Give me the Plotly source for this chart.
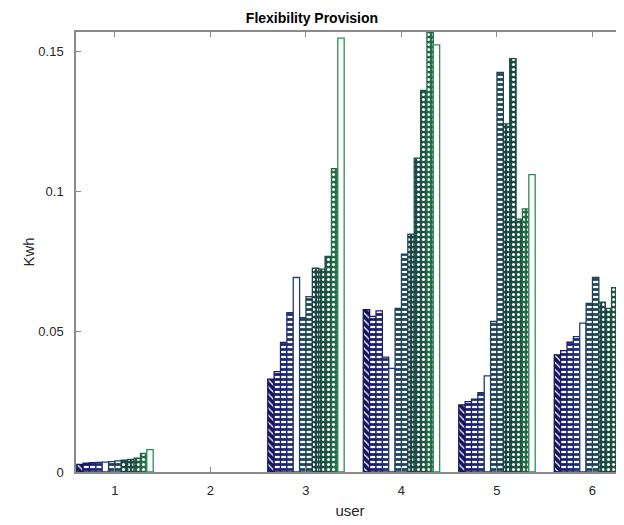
import plotly.graph_objects as go

# ---- data ----
users = [1, 2, 3, 4, 5, 6]
tick_labels = ["1", "2", "3", "4", "5", "6"]

user_1 = [0.0027, 0.0032, 0.0033, 0.0034, 0.0035, 0.0037, 0.0040, 0.0042, 0.0045, 0.0049, 0.0066, 0.0080]
user_2 = [0, 0, 0, 0, 0, 0, 0, 0, 0, 0, 0, 0]
user_3 = [0.0331, 0.0358, 0.0462, 0.0569, 0.0694, 0.0551, 0.0626, 0.0727, 0.0724, 0.0769, 0.1082, 0.1548]
user_4 = [0.0579, 0.0555, 0.0575, 0.0410, 0.0370, 0.0584, 0.0777, 0.0849, 0.1120, 0.1362, 0.1600, 0.1524]
user_5 = [0.0239, 0.0251, 0.0260, 0.0283, 0.0343, 0.0537, 0.1426, 0.1242, 0.1475, 0.0902, 0.0939, 0.1061]
user_6 = [0.0418, 0.0433, 0.0463, 0.0483, 0.0531, 0.0602, 0.0694, 0.0606, 0.0584, 0.0658, 0.0840, 0.0900]

# ---- styles (one per bar in a group) ----
bar_colors = ["#15155e", "#19196a", "#1b2270", "#1d2c74", "#223a78", "#1c3f5e",
              "#1b4454", "#1b4649", "#1b4c42", "#1d5542", "#236c46", "#2e8b57"]
# (shape, fg, bg, solidity)
patterns = [
    ("\\", "white", "c", 0.25),
    ("-", "c", "white", 0.55),
    ("-", "c", "white", 0.55),
    ("-", "c", "white", 0.55),
    ("", "c", "white", 0.0),
    ("-", "c", "white", 0.55),
    ("-", "c", "white", 0.55),
    (".", "white", "c", 0.3),
    (".", "white", "c", 0.3),
    (".", "white", "c", 0.3),
    (".", "white", "c", 0.3),
    ("", "c", "white", 0.0),
]

groups = [user_1, user_2, user_3, user_4, user_5, user_6]

fig = go.Figure()
for j in range(12):
    col = bar_colors[j]
    shape, fg, bg, sol = patterns[j]
    fg = col if fg == "c" else fg
    bg = col if bg == "c" else bg
    ys = [g[j] if g[j] != 0 else None for g in groups]
    marker = dict(color="white" if shape == "" else bg,
                  line=dict(color=col, width=1.3))
    if shape:
        marker["pattern"] = dict(shape=shape, fgcolor=fg, bgcolor=bg,
                                 size=5, solidity=sol, fillmode="replace")
    fig.add_trace(go.Bar(x=users, y=ys, marker=marker, showlegend=False))

axis_col = "#8a8a8a"
fig.update_layout(
    width=616, height=517,
    margin=dict(l=68, r=0, t=24, b=53),
    paper_bgcolor="white", plot_bgcolor="white",
    barmode="group", bargap=0.2, bargroupgap=0.0,
    font=dict(family="Liberation Sans, Arial, sans-serif", size=13, color="#262626"),
    title=dict(text="<b>Flexibility Provision</b>", x=0.4935, xref="container",
               y=1 - 10 / 517, yref="container", xanchor="center", yanchor="middle",
               font=dict(size=14, color="#000000")),
    xaxis=dict(range=[0.592, 6.33], tickvals=users, ticktext=tick_labels,
               ticks="inside", ticklen=5, tickcolor=axis_col, tickwidth=1,
               showline=True, linecolor=axis_col, linewidth=1.5, mirror="ticks",
               showgrid=False, zeroline=False, ticklabelstandoff=6,
               title=dict(text="user", font=dict(size=15, color="#262626"), standoff=8)),
    yaxis=dict(range=[0, 0.157], tickvals=[0, 0.05, 0.1, 0.15],
               ticktext=["0", "0.05", "0.1", "0.15"],
               ticks="inside", ticklen=5, tickcolor=axis_col, tickwidth=1,
               showline=True, linecolor=axis_col, linewidth=1.5, mirror=False,
               showgrid=False, zeroline=False, ticklabelstandoff=8,
               title=dict(text="Kwh", font=dict(size=15, color="#262626"), standoff=0)),
)

fig.write_html("out.html")
